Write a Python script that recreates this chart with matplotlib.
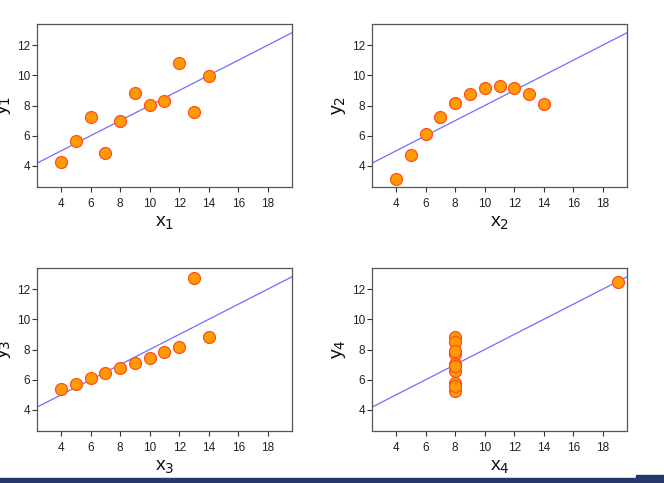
import numpy as np
import matplotlib
matplotlib.use("Agg")
import matplotlib.pyplot as plt
from matplotlib.patches import Rectangle

# Anscombe's quartet
x123 = [10, 8, 13, 9, 11, 14, 6, 4, 12, 7, 5]
y1 = [8.04, 6.95, 7.58, 8.81, 8.33, 9.96, 7.24, 4.26, 10.84, 4.82, 5.68]
y2 = [9.14, 8.14, 8.74, 8.77, 9.26, 8.10, 6.13, 3.10, 9.13, 7.26, 4.74]
y3 = [7.46, 6.77, 12.74, 7.11, 7.81, 8.84, 6.08, 5.39, 8.15, 6.42, 5.73]
x4 = [8, 8, 8, 8, 8, 8, 8, 19, 8, 8, 8]
y4 = [6.58, 5.76, 7.71, 8.84, 8.47, 7.04, 5.25, 12.50, 5.56, 7.91, 6.89]

xticks = [4, 6, 8, 10, 12, 14, 16, 18]
yticks = [4, 6, 8, 10, 12]

plt.rcParams['font.family'] = ['Liberation Sans', 'DejaVu Sans']

W, H = 664, 483
fig = plt.figure(figsize=(W / 100, H / 100), dpi=100)

# axes boxes in pixels: left, top
boxes = [(37, 24), (372, 24), (37, 268), (372, 268)]
aw, ah = 255, 163
sets = [(x123, y1), (x123, y2), (x123, y3), (x4, y4)]

for i, ((l, t), (xs, ys)) in enumerate(zip(boxes, sets)):
    ax = fig.add_axes([l / W, (H - t - ah) / H, aw / W, ah / H])
    ax.axline((0, 3), slope=0.5, color='#6f6fff', lw=0.9, zorder=1)
    ax.plot(xs, ys, 'o', ms=8.6, mfc='#ff9a00', mec='#ff4f1f', mew=0.9,
            zorder=2, clip_on=False)
    ax.set_xlim(2.36, 19.64)
    ax.set_ylim(2.6, 13.4)
    ax.set_xticks(xticks)
    ax.set_yticks(yticks)
    ax.tick_params(direction='out', length=3.6, width=0.8, colors='#333333',
                   labelsize=8.5, labelcolor='#222222')
    ax.tick_params(axis='x', pad=4.5)
    ax.tick_params(axis='y', pad=1.5)
    for s in ax.spines.values():
        s.set_color('#555555')
        s.set_linewidth(0.9)
    ax.set_xlabel('x$_{%d}$' % (i + 1), fontsize=14, color='#111111')
    ax.set_ylabel('y$_{%d}$' % (i + 1), fontsize=14, color='#111111')
    ax.xaxis.set_label_coords(0.5, -36 / ah, transform=ax.transAxes)
    ax.yaxis.set_label_coords(-33 / aw, 0.5, transform=ax.transAxes)
    ax.xaxis.label.set_va('center')
    ax.yaxis.label.set_va('center')

# bottom bar
fig.patches.append(Rectangle((0, 0), 636 / W, 5 / H, transform=fig.transFigure,
                             color='#26386b', zorder=10))
fig.patches.append(Rectangle((636 / W, 0), 28 / W, 8 / H, transform=fig.transFigure,
                             color='#26386b', zorder=10))

fig.savefig('out.png', dpi=100)
